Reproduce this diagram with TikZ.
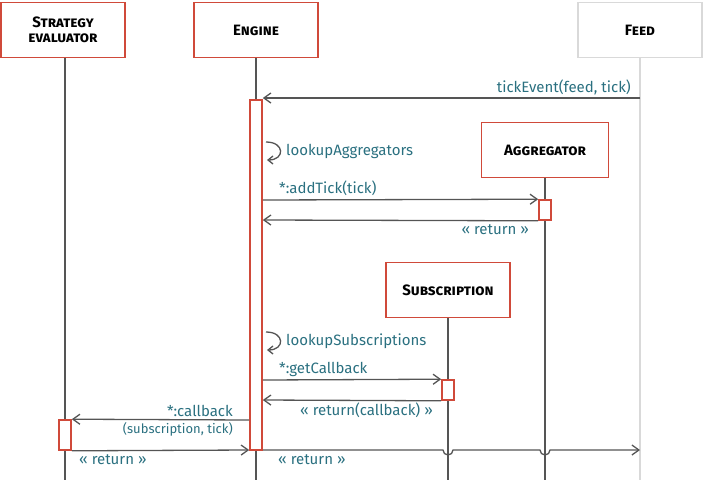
\documentclass[tikz,border=0pt]{standalone}
\usepackage{fontspec}
\setmainfont{Fira Sans}
\usetikzlibrary{positioning,arrows.meta}
\definecolor{boxred}{HTML}{D04A3A}
\definecolor{msgteal}{HTML}{2A7080}
\definecolor{lifegray}{HTML}{555555}
\begin{document}
\begin{tikzpicture}[x=1pt,y=-1pt,
			actor/.style={draw=boxred, line width=1.6pt, fill=white, minimum width=124pt, minimum height=55pt, font=\fontsize{15}{16}\selectfont\bfseries\scshape},
			lifeline/.style={draw=lifegray, line width=1.3pt},
			activation/.style={draw=boxred, line width=1.6pt, fill=white, minimum width=12pt, inner sep=0pt},
			msg/.style={draw=lifegray, line width=1.3pt, -{Straight Barb[length=7pt,width=10pt]}},
			lbl/.style={text=msgteal, font=\fontsize{15}{16}\selectfont, inner sep=1pt},
			]
			\useasboundingbox (0,0) rectangle (720,480);
			% lifelines
			\draw[lifeline] (65,57) -- (65,480);
			\draw[lifeline] (256,57) -- (256,480);
			\draw[draw=black!15, line width=1.3pt] (640,57) -- (640,480);
			\draw[lifeline] (545,178) -- (545,480);
			\draw[lifeline] (448,318) -- (448,480);
			% participants
			\node[actor, align=center] (strategy) at (63,30) {Strategy\\[-1pt]evaluator};
			\node[actor] (engine) at (256,30) {Engine};
			\node[actor, draw=black!15] (feed) at (640,30) {Feed};
			\node[actor, minimum width=127pt] (aggregator) at (545,150) {Aggregator};
			\node[actor] (subscription) at (448,290) {Subscription};
			% activations
			\node[activation, minimum height=350pt] (engact) at (256,275) {};
			\node[activation, minimum height=20pt] (aggact) at (545,210) {};
			\node[activation, minimum height=20pt] (subact) at (448,390) {};
			\node[activation, minimum height=30pt] (stratact) at (65,435) {};
			% anchor points
			\coordinate (feedtick) at (640,98);
			\coordinate (feedret) at (640,450);
			% messages
			\draw[msg] (feedtick) -- (feedtick -| engact.east);
			\node[lbl, anchor=south east] at (632,96) {tickEvent(feed, tick)};
			\draw[line width=1.3pt, draw=lifegray, -{Straight Barb[length=5pt,width=8pt]}] (266,142) .. controls (285,142) and (285,160) .. (267,160);
			\node[lbl, anchor=west] (lookagg) at (285,151) {lookupAggregators};
			\draw[msg] (engact.east |- 0,200) -- (aggact.north west);
			\node[lbl, anchor=south west] at (278,197) {*:addTick(tick)};
			\draw[msg] (aggact.south west) -- (engact.east |- 0,220);
			\node[lbl, anchor=north east] at (530,223) {« return »};
			\draw[line width=1.3pt, draw=lifegray, -{Straight Barb[length=5pt,width=8pt]}] (266,332) .. controls (285,332) and (285,350) .. (267,350);
			\node[lbl, anchor=west] (looksub) at (285,341) {lookupSubscriptions};
			\draw[msg] (engact.east |- 0,380) -- (subact.north west);
			\node[lbl, anchor=south west] at (278,378) {*:getCallback};
			\draw[msg] (subact.south west) -- (engact.east |- 0,400);
			\node[lbl, anchor=north east] at (434,402) {« return(callback) »};
			\draw[msg] (engact.west |- 0,420) -- (stratact.north east);
			\node[lbl, anchor=south east] at (234,418) {*:callback};
			\node[lbl, anchor=north east, font=\fontsize{13}{14}\selectfont] at (234,421) {(subscription, tick)};
			\draw[msg] (stratact.south east) -- (engact.west |- 0,450);
			\node[lbl, anchor=north west] at (78,453) {« return »};
			\draw[msg] (engact.east |- 0,450) -- (443,450) arc[start angle=180, end angle=0, radius=5] -- (540,450) arc[start angle=180, end angle=0, radius=5] -- (feedret);
			\node[lbl, anchor=north west] (feedretlbl) at (277,453) {« return »};
		\end{tikzpicture}
\end{document}
